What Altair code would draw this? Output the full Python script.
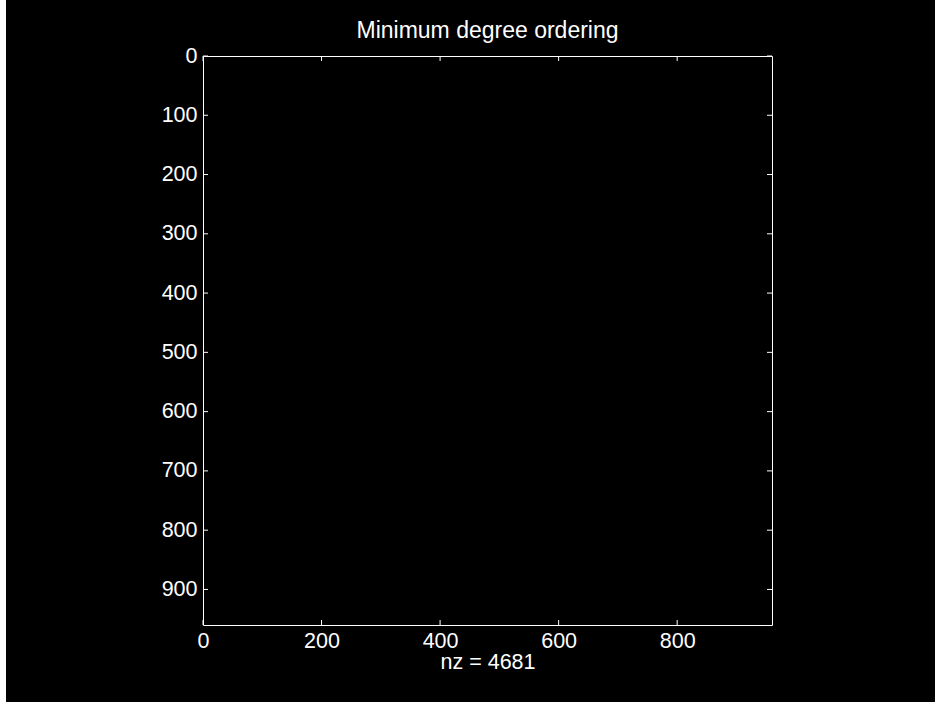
import altair as alt
import pandas as pd

# Sparsity pattern axes for the reordered matrix (markers drawn in black on black)
n_max = 960
nz = 4681
x_ticks = [0, 200, 400, 600, 800]
y_ticks = [0, 100, 200, 300, 400, 500, 600, 700, 800, 900]

W = H = 569
TICK = 5
FONT = "Liberation Sans"
FG = "#ffffff"

xdf = pd.DataFrame({"col": x_ticks})
ydf = pd.DataFrame({"row": y_ticks})

xscale = alt.Scale(domain=[0, n_max], nice=False, zero=False)
yscale = alt.Scale(domain=[0, n_max], nice=False, zero=False, reverse=True)

x_axis = alt.Axis(
    values=x_ticks, ticks=False, tickSize=0, domain=False, grid=False,
    labelFontSize=21.5, labelFont=FONT, labelColor=FG, labelPadding=5,
    labelAngle=0, labelBaseline="top", labelFlush=False, labelOverlap=False,
    title=f"nz = {nz}", titleFont=FONT, titleFontSize=21.5, titleFontWeight="normal",
    titleColor=FG, titleBaseline="alphabetic", titleY=43,
)
y_axis = alt.Axis(
    values=y_ticks, ticks=False, tickSize=0, domain=False, grid=False,
    labelFontSize=21.5, labelFont=FONT, labelColor=FG, labelPadding=6,
    labelAlign="right", labelBaseline="middle", labelFlush=False, labelOverlap=False,
    title=None,
)

bottom_ticks = alt.Chart(xdf).mark_rule(color=FG, strokeWidth=1).encode(
    x=alt.X("col:Q", scale=xscale, axis=x_axis),
    y=alt.value(H), y2=alt.value(H - TICK),
)
top_ticks = alt.Chart(xdf).mark_rule(color=FG, strokeWidth=1).encode(
    x=alt.X("col:Q", scale=xscale),
    y=alt.value(0), y2=alt.value(TICK),
)
left_ticks = alt.Chart(ydf).mark_rule(color=FG, strokeWidth=1).encode(
    y=alt.Y("row:Q", scale=yscale, axis=y_axis),
    x=alt.value(0), x2=alt.value(TICK),
)
right_ticks = alt.Chart(ydf).mark_rule(color=FG, strokeWidth=1).encode(
    y=alt.Y("row:Q", scale=yscale),
    x=alt.value(W), x2=alt.value(W - TICK),
)
# light strip along the left edge of the figure window
edge = alt.Chart(pd.DataFrame({"k": [0]})).mark_rect(color="#ffffff").encode(
    x=alt.value(-203), x2=alt.value(-197), y=alt.value(-56), y2=alt.value(702 - 56),
)

chart = alt.layer(edge, bottom_ticks, top_ticks, left_ticks, right_ticks).properties(
    width=W, height=H,
    # the edge strip reaches the top of the canvas, so the title is shifted back down
    title=alt.TitleParams(
        "Minimum degree ordering", font=FONT, fontSize=23, fontWeight="normal",
        color=FG, anchor="middle", baseline="alphabetic", offset=18, dy=79,
    ),
    autosize=alt.AutoSizeParams(type="none"),
    padding={"left": 203, "top": 56, "right": 163, "bottom": 77},
).configure(background="#000000").configure_view(
    stroke=FG, strokeWidth=1, fill="#000000"
)

chart.save("out.html", embed_options={"renderer": "svg", "actions": False})
